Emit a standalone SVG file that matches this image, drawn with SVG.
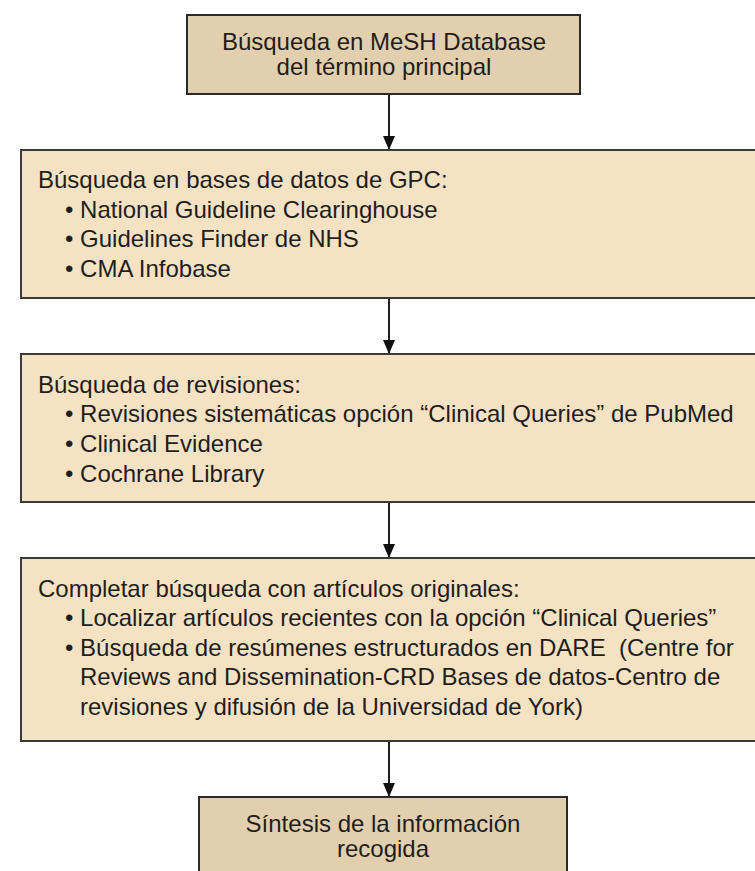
<svg xmlns="http://www.w3.org/2000/svg" width="755" height="871" viewBox="0 0 755 871">
<style>
.t{font-family:"Liberation Sans",Arial,sans-serif;font-size:24px;fill:#1e1e1e;white-space:pre}
.c{text-anchor:middle}
.dark{fill:#E2CFAE;stroke:#2a2a2a;stroke-width:2}
.light{fill:#F5E2C3;stroke:#3a3a3a;stroke-width:2}
.ln{stroke:#1e1e1e;stroke-width:2;fill:none}
</style>
<defs>
<marker id="ah" markerWidth="14" markerHeight="12" refX="14" refY="6" orient="auto" markerUnits="userSpaceOnUse">
<path d="M0,0 L14,6 L0,12 Z" fill="#111"/>
</marker>
</defs>
<rect width="755" height="871" fill="#fff"/>
<g id="connectors">
<line class="ln" x1="389" y1="95" x2="389" y2="150" marker-end="url(#ah)"/>
<line class="ln" x1="389" y1="299" x2="389" y2="354" marker-end="url(#ah)"/>
<line class="ln" x1="389" y1="503" x2="389" y2="558" marker-end="url(#ah)"/>
<line class="ln" x1="389" y1="742" x2="389" y2="797" marker-end="url(#ah)"/>
</g>
<g id="n1">
<rect class="dark" x="187" y="15" width="393" height="79"/>
<text class="t c" x="384" y="50">Búsqueda en MeSH Database</text>
<text class="t c" x="384" y="75">del término principal</text>
</g>
<g id="n2">
<rect class="light" x="21" y="150" width="760" height="148"/>
<text class="t" x="38" y="188">Búsqueda en bases de datos de GPC:</text>
<text class="t" x="65" y="218">• National Guideline Clearinghouse</text>
<text class="t" x="65" y="247">• Guidelines Finder de NHS</text>
<text class="t" x="65" y="277">• CMA Infobase</text>
</g>
<g id="n3">
<rect class="light" x="21" y="354" width="760" height="148"/>
<text class="t" x="38" y="393">Búsqueda de revisiones:</text>
<text class="t" x="65" y="422">• Revisiones sistemáticas opción “Clinical Queries” de PubMed</text>
<text class="t" x="65" y="452">• Clinical Evidence</text>
<text class="t" x="65" y="482">• Cochrane Library</text>
</g>
<g id="n4">
<rect class="light" x="21" y="558" width="760" height="183"/>
<text class="t" x="38" y="597">Completar búsqueda con artículos originales:</text>
<text class="t" x="65" y="626">• Localizar artículos recientes con la opción “Clinical Queries”</text>
<text class="t" x="65" y="656">• Búsqueda de resúmenes estructurados en DARE  (Centre for</text>
<text class="t" x="80" y="685">Reviews and Dissemination-CRD Bases de datos-Centro de</text>
<text class="t" x="80" y="715">revisiones y difusión de la Universidad de York)</text>
</g>
<g id="n5">
<rect class="dark" x="199" y="797" width="368" height="90"/>
<text class="t c" x="383" y="832">Síntesis de la información</text>
<text class="t c" x="383" y="857">recogida</text>
</g>
</svg>
